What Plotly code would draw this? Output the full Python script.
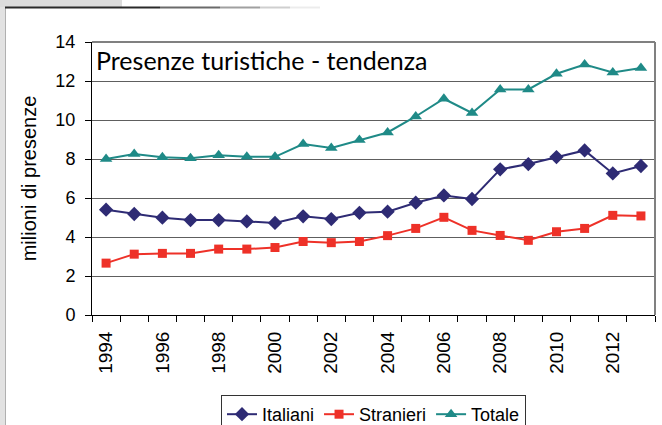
import plotly.graph_objects as go

years = list(range(1994, 2014))
italiani = [5.40, 5.18, 4.99, 4.87, 4.87, 4.80, 4.72, 5.06, 4.92, 5.24,
            5.30, 5.76, 6.13, 5.95, 7.47, 7.74, 8.10, 8.44, 7.26, 7.64]
stranieri = [2.66, 3.12, 3.16, 3.16, 3.38, 3.38, 3.46, 3.77, 3.71, 3.77,
             4.07, 4.44, 5.01, 4.34, 4.08, 3.83, 4.27, 4.44, 5.11, 5.08]
totale = [8.00, 8.26, 8.09, 8.04, 8.19, 8.11, 8.11, 8.77, 8.57, 8.98,
          9.36, 10.18, 11.09, 10.36, 11.57, 11.57, 12.37, 12.84, 12.44, 12.67]
label_years = list(range(1994, 2014, 2))
y_ticks = list(range(0, 15, 2))

title_text = "Presenze turistiche - tendenza"
y_title = "milioni di presenze"

W, H = 662, 425
L, R, T, B = 92, 7, 42, 110
pw, ph = W - L - R, H - T - B

def px_x(px):
    return (px - L) / pw

def px_y(py):
    return (H - B - py) / ph

FONT = "Liberation Sans, Arial, sans-serif"

fig = go.Figure()
fig.add_trace(go.Scatter(x=years, y=italiani, name="Italiani", mode="lines+markers",
                         line=dict(color="#2e2b74", width=2),
                         marker=dict(symbol="diamond", size=11, color="#2e2b74")))
fig.add_trace(go.Scatter(x=years, y=stranieri, name="Stranieri", mode="lines+markers",
                         line=dict(color="#ee3128", width=2),
                         marker=dict(symbol="square", size=9, color="#ee3128")))
fig.add_trace(go.Scatter(x=years, y=totale, name="Totale", mode="lines+markers",
                         line=dict(color="#1f8a87", width=2),
                         marker=dict(symbol="triangle-up", size=11, color="#1f8a87")))

fig.update_layout(
    width=W, height=H,
    margin=dict(l=L, r=R, t=T, b=B, pad=0, autoexpand=False),
    paper_bgcolor="white", plot_bgcolor="white",
    showlegend=True,
    legend=dict(orientation="h", x=0.5, xanchor="center", xref="paper",
                y=px_y(395), yanchor="top",
                bordercolor="#333333", borderwidth=1, bgcolor="white",
                font=dict(family=FONT, size=18, color="black"),
                itemwidth=30, tracegroupgap=0),
    xaxis=dict(range=[1993.5, 2013.5], tickmode="array", tickvals=label_years,
               ticktext=[str(v) for v in label_years], tickangle=-90,
               ticks="", showgrid=False, zeroline=False, automargin=False,
               showline=True, linecolor="black", linewidth=1,
               tickfont=dict(family=FONT, size=19, color="black"),
               ticklabelstandoff=8,
               minor=dict(tickmode="array", tickvals=[y + 0.5 for y in range(1993, 2014)],
                          ticks="outside", ticklen=6, tickcolor="black", tickwidth=1,
                          showgrid=False)),
    yaxis=dict(range=[0, 14], tickmode="array", tickvals=y_ticks,
               ticks="outside", ticklen=6, tickcolor="black", automargin=False,
               showgrid=True, gridcolor="#5e5e5e", gridwidth=1, zeroline=False,
               showline=True, linecolor="black", linewidth=1,
               tickfont=dict(family=FONT, size=18, color="black"), ticklabelstandoff=6,
               title=dict(text=y_title, font=dict(family=FONT, size=20, color="black"),
                          standoff=13)),
)

# plot-area border (top / right in gray)
fig.add_shape(type="line", xref="paper", yref="paper", x0=0, x1=1, y0=1, y1=1,
              line=dict(color="#808080", width=2), layer="above")
fig.add_shape(type="line", xref="paper", yref="paper", x0=1, x1=1, y0=0, y1=1,
              line=dict(color="#808080", width=2), layer="above")

# title inside the plot
fig.add_annotation(text=title_text, xref="paper", yref="paper",
                   x=px_x(94), y=px_y(60), xanchor="left", yanchor="middle",
                   showarrow=False,
                   font=dict(family="Lato, sans-serif", size=25, color="black"))

# screenshot frame decorations
fig.add_shape(type="rect", xref="paper", yref="paper",
              x0=px_x(0), x1=px_x(122), y0=px_y(0), y1=px_y(7),
              fillcolor="#dcdcdc", line=dict(width=0), layer="below")
fig.add_shape(type="rect", xref="paper", yref="paper",
              x0=px_x(0), x1=px_x(5), y0=px_y(7), y1=px_y(H),
              fillcolor="#e2e2e2", line=dict(width=0), layer="below")
fig.add_shape(type="line", xref="paper", yref="paper",
              x0=px_x(5.5), x1=px_x(5.5), y0=px_y(7), y1=px_y(H),
              line=dict(color="#b0b0b0", width=1), layer="below")
segs = [(5, 160, "#2a2a2a"), (160, 220, "#6a6a6a"), (220, 260, "#a0a0a0"),
        (260, 290, "#cfcfcf"), (290, 320, "#ececec")]
for a, b, c in segs:
    fig.add_shape(type="line", xref="paper", yref="paper",
                  x0=px_x(a), x1=px_x(b), y0=px_y(7.5), y1=px_y(7.5),
                  line=dict(color=c, width=2), layer="below")

fig.write_html("out.html", config={"displayModeBar": False},
               post_script="document.body.style.margin='0';document.body.style.overflow='hidden';")
